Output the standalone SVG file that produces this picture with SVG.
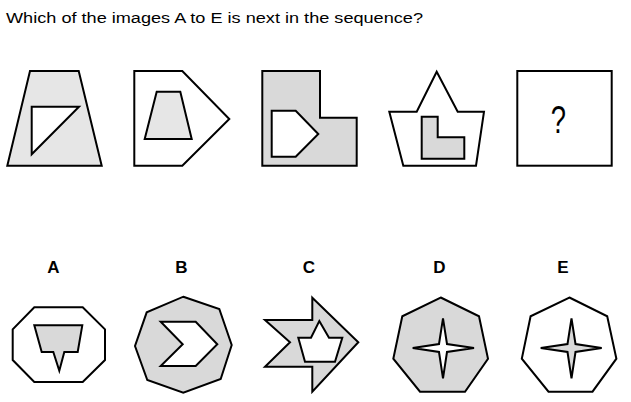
<svg xmlns="http://www.w3.org/2000/svg" width="631" height="402" viewBox="0 0 631 402">
<style>
.s{stroke:#000;stroke-width:2;stroke-linejoin:miter}
.w{fill:#fff}
.l{fill:#e6e6e6}
.g{fill:#d9d9d9}
.t{font-family:"Liberation Sans",Arial,sans-serif;fill:#000}
.lb{font-family:"Liberation Sans",Arial,sans-serif;font-weight:bold;font-size:17px;text-anchor:middle;fill:#000}
</style>
<rect width="631" height="402" fill="#fff"/>
<text class="t" x="6" y="23.3" font-size="15.5" textLength="417" lengthAdjust="spacingAndGlyphs">Which of the images A to E is next in the sequence?</text>

<g id="q1">
<polygon class="s l" points="30,71 78.7,71 101.7,165.7 7.3,165.7"/>
<polygon class="s w" points="31.7,106.7 79,106.7 31.7,154.3"/>
</g>
<g id="q2">
<polygon class="s w" points="134.3,71 182.3,71 229.3,119 182.3,165.7 134.3,165.7"/>
<polygon class="s l" points="156.7,91.7 180.3,91.7 191.7,139 144.7,139"/>
</g>
<g id="q3">
<polygon class="s g" points="262.3,71 320,71 320,117.7 356.7,117.7 356.7,165.7 262.3,165.7"/>
<polygon class="s w" points="271.7,110.7 295.7,110.7 318.3,134 295.7,156.7 271.7,156.7"/>
</g>
<g id="q4">
<polygon class="s w" points="436.7,71.7 457.7,111.7 484,111.7 476,165.7 403.3,165.7 389.3,111.7 416.7,111.7"/>
<polygon class="s g" points="421.7,116.7 437.7,116.7 437.7,137.3 464.3,137.3 464.3,158.7 421.7,158.7"/>
</g>
<g id="q5">
<rect class="s w" x="517.3" y="71" width="94.4" height="94.7"/>
<text class="t" transform="translate(558.3,133.3) scale(0.72,1)" font-size="38" text-anchor="middle">?</text>
</g>

<g id="labels">
<text class="lb" x="53.3" y="272.7">A</text>
<text class="lb" x="181.3" y="272.7">B</text>
<text class="lb" x="309" y="272.7">C</text>
<text class="lb" x="439.3" y="272.7">D</text>
<text class="lb" x="562.8" y="272.7">E</text>
</g>

<g id="optA">
<polygon class="s w" points="34.3,307.3 82.7,307.3 105,329.3 105,360 82.7,382 34.3,382 12.7,360 12.7,329.3"/>
<polygon class="s g" points="34.3,325.3 82.3,325.3 77.7,352 64.3,352 59.3,370.7 53.3,352 41.7,352"/>
</g>
<g id="optB">
<polygon class="s g" points="183.3,296.7 219.3,309 231.7,345 220.7,379 183.3,392.7 147.3,380 135,346 146.7,312.3"/>
<polygon class="s w" points="160.7,321.7 195.7,321.7 217.3,344.3 195.7,366 160.7,366 182.7,344.3"/>
</g>
<g id="optC">
<polygon class="s g" points="312.3,297.7 358.3,342.3 312.3,391.7 312.3,366.7 265,366.7 290,342.3 265,320 312.3,320"/>
<polygon class="s w" points="319.3,321 329,337.7 342.3,337.7 335,361.7 305,361.7 298.3,337.7 311,337.7"/>
</g>
<g id="optD">
<polygon class="s g" points="440.7,297.5 479,316.3 488,358.7 465,391.7 420,391.7 393.3,358.7 402.3,316.3"/>
<polygon class="s w" points="443,318.3 447,344 474,348 447,352 443,378.3 439,352 412.7,348 439,344"/>
</g>
<g id="optE">
<polygon class="s w" points="569.4,297.5 607.2,316.3 616.4,358.7 592.5,391.7 548.5,391.7 521.8,358.7 530.6,316.3"/>
<polygon class="s g" points="571.5,318.3 575.5,344 601.7,348 575.5,352 571.5,378.3 567.5,352 540.7,348 567.5,344"/>
</g>
</svg>
